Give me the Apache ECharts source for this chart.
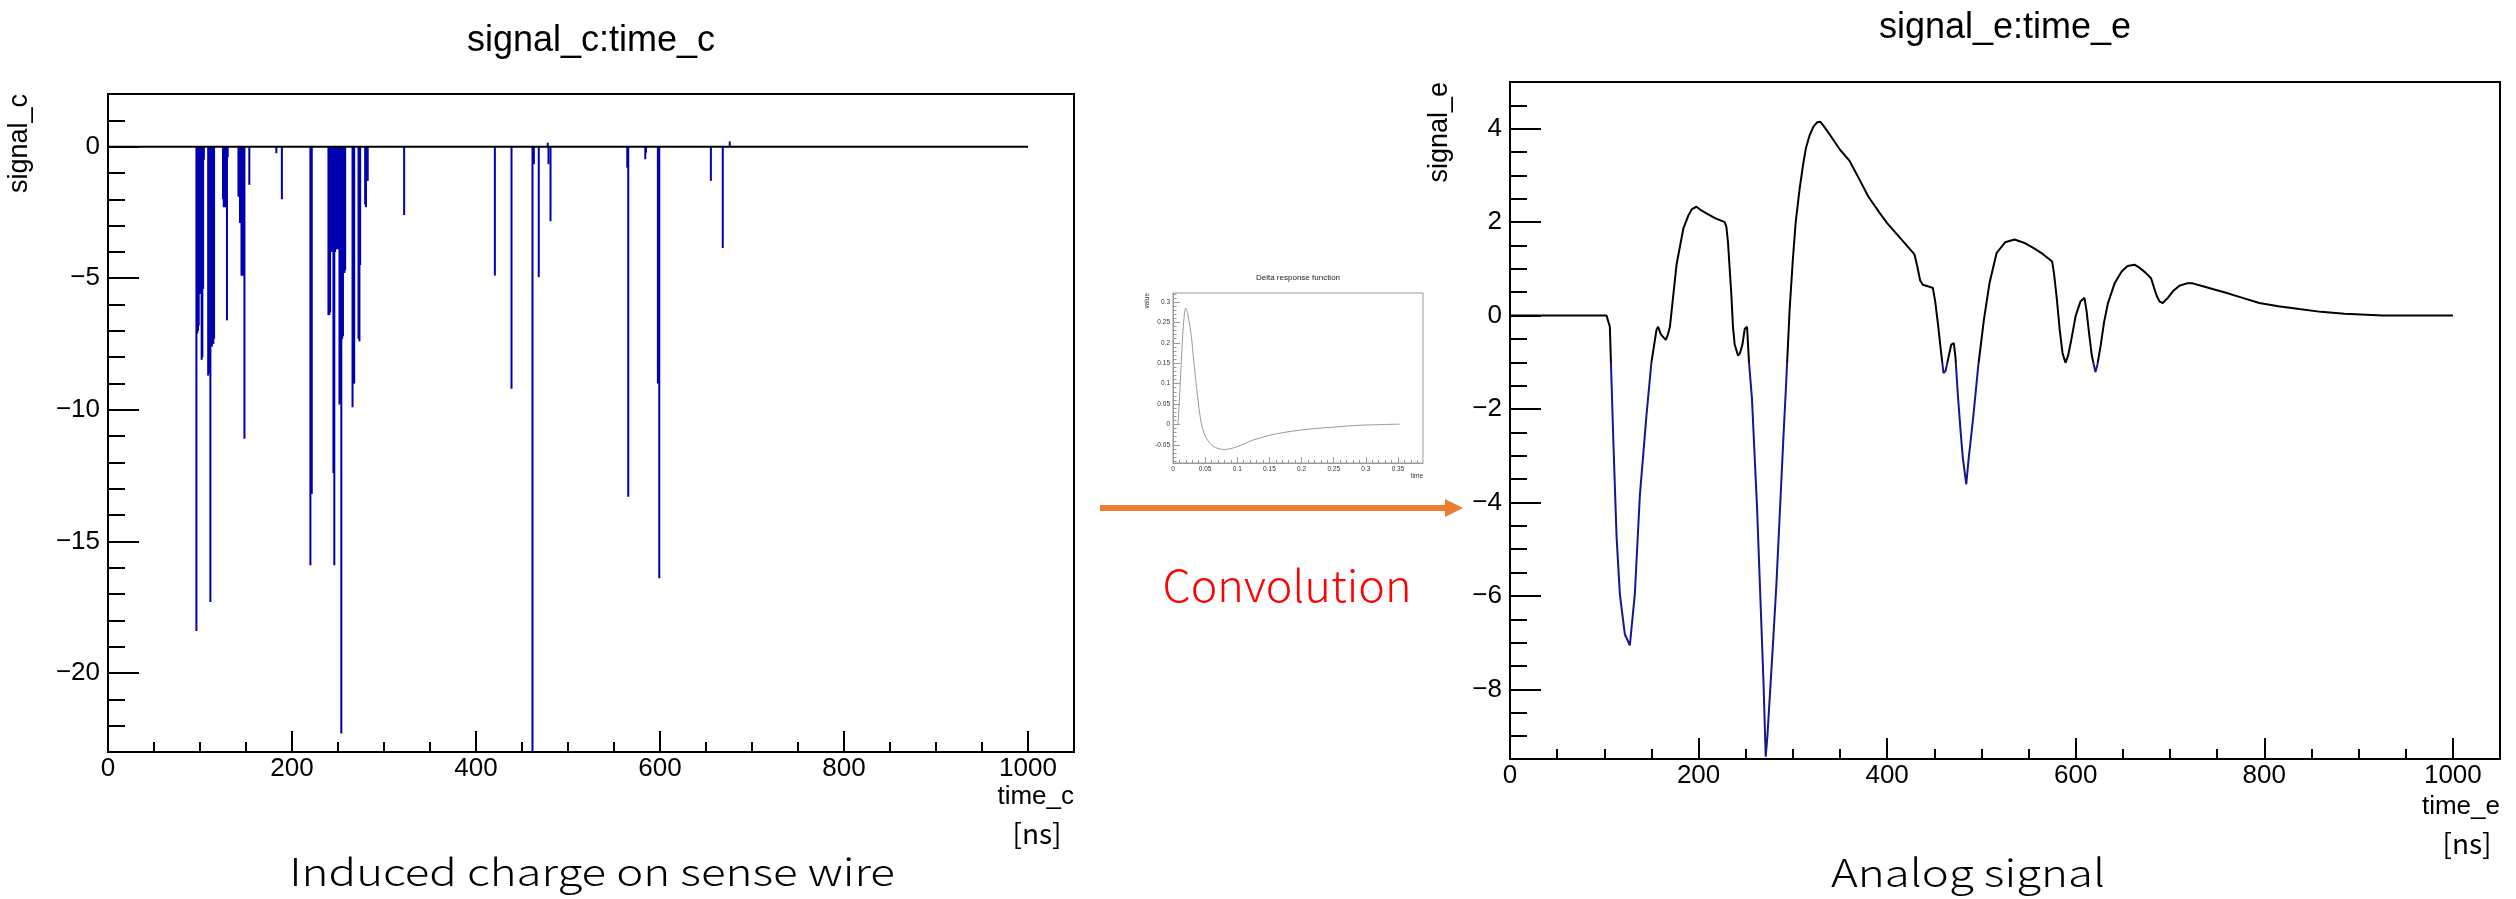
<!DOCTYPE html>
<html>
<head>
<meta charset="utf-8">
<script src="https://cdn.jsdelivr.net/npm/echarts@6/dist/echarts.min.js"></script>
<style>
html,body{margin:0;padding:0;background:#fff;}
#chart{width:2516px;height:899px;}
</style>
</head>
<body>
<div id="chart"></div>
<script>
// ---------- Data ----------
// Left: induced charge spikes (time_c [ns], signal_c)
const spikeTimes = [96.1,97.0,97.8,98.6,99.4,100.2,101.0,101.8,102.6,103.4,104.2,
  108.9,109.7,110.5,111.3,112.1,112.9,113.7,114.5,115.3,
  125.0,125.8,126.6,127.4,128.2,129.3,130.1,
  141.8,142.6,143.5,144.3,145.1,145.9,146.7,147.5,148.3,
  153.6,183.0,189.0,220.0,221.5,
  239.6,240.5,241.4,242.2,243.1,244.0,245.0,246.0,246.8,247.6,248.4,249.2,250.0,250.8,251.6,252.5,253.6,254.6,255.4,256.2,257.0,257.8,
  265.8,266.8,267.6,272.3,273.3,274.1,279.5,280.4,281.5,282.3,321.9,
  420.5,438.6,461.4,462.9,468.2,478.0,478.8,481.0,
  564.4,565.5,584.0,584.8,597.7,599.2,655.3,668.2,675.8];
const spikeValues = [-18.4,-7.1,-7.0,-6.8,-5.6,-5.5,-5.6,-8.1,-8.0,-5.4,-0.5,
  -8.7,-8.6,-7.6,-17.3,-7.5,-7.6,-7.4,-7.5,-7.3,
  -2.0,-2.3,-2.3,-1.9,-2.3,-6.6,-0.4,
  -1.9,-1.9,-2.9,-2.9,-4.9,-4.9,-4.8,-4.9,-11.1,
  -1.45,-0.25,-2.0,-15.9,-13.2,
  -6.4,-6.4,-6.3,-4.0,-4.0,-3.9,-12.4,-15.9,-4.0,-3.9,-3.8,-3.9,-3.8,-3.9,-9.8,-9.7,-22.3,-7.3,-7.2,-4.8,-4.8,-4.7,
  -9.9,-9.0,-9.0,-7.3,-7.4,-4.5,-2.2,-2.3,-1.3,-1.3,-2.6,
  -4.9,-9.2,-23.5,-0.67,-4.96,0.15,-0.67,-2.83,
  -0.8,-13.3,-0.48,-0.23,-9.0,-16.4,-1.3,-3.85,0.2];
const baseTimes = [0, 1000];
const baseValues = [0, 0];

// Right: analog signal (time_e [ns], signal_e)
const signalTimes = [0,102.4,104,105.9,109.5,113,116.5,121.8,127.1,132.4,137.7,144.7,150,155.4,157.1,160,165.2,167.5,169.6,176.7,183.8,189.1,193,197.7,203,208.3,218,227.7,229.5,231.2,234.8,236.5,238.3,241.9,244,246.5,249,251.4,253.5,256.6,261.9,265.4,268.9,271.2,273,276,279,282.5,286,290,293,296.6,300,303,307.2,311,314,317.8,322,326,329,333,340,350,360.2,370.7,380,392,400,410,420,429,432,435,437.9,443,448.5,451,454,457,459.8,462,465,468,470.7,472.5,475,478,480.3,483.9,486.5,489,491.4,496.6,502.6,508.6,516.1,525.1,535.1,545,555,565,575,577,580,583,586,589.1,592,595,600,605,609.3,611.5,614,617,620.9,623,626.4,630,634,641.4,648.9,655,662.3,668,674,679.9,683,686,689,692.3,697.7,703,710,718,724.1,735,747,759.4,777,794.7,815,837.1,860,885,920,925,1000];
const signalValues = [0,0,-0.03,-0.24,-2.62,-4.72,-5.96,-6.82,-7.06,-5.96,-3.86,-2.14,-1.0,-0.3,-0.24,-0.4,-0.52,-0.4,-0.24,1.1,1.86,2.14,2.28,2.33,2.25,2.19,2.08,2.0,1.9,1.57,0.43,-0.24,-0.62,-0.86,-0.8,-0.62,-0.28,-0.24,-1.0,-1.77,-4.05,-5.96,-7.87,-9.44,-9.0,-8.0,-7.0,-5.77,-4.3,-2.6,-1.4,0.14,1.2,2.0,2.72,3.25,3.6,3.86,4.05,4.14,4.15,4.05,3.85,3.55,3.31,2.91,2.55,2.2,1.98,1.75,1.52,1.31,1.05,0.75,0.66,0.63,0.59,0.3,-0.2,-0.75,-1.23,-1.18,-0.9,-0.62,-0.59,-0.9,-1.7,-2.5,-3.05,-3.61,-3.05,-2.6,-2.15,-1.08,-0.09,0.7,1.34,1.57,1.63,1.56,1.45,1.32,1.16,0.9,0.35,-0.3,-0.8,-1.01,-0.85,-0.55,0.0,0.3,0.38,0.1,-0.35,-0.85,-1.21,-1.05,-0.65,-0.15,0.25,0.7,0.95,1.06,1.09,1.02,0.92,0.8,0.6,0.42,0.3,0.27,0.38,0.52,0.64,0.69,0.69,0.63,0.56,0.49,0.38,0.27,0.2,0.14,0.08,0.04,0.01,0,0];

// Inset: delta response function (time, value)
const respTimes = [0.0078,0.010,0.013,0.016,0.0197,0.023,0.0285,0.032,0.036,0.040,0.044,0.048,0.052,0.057,0.062,0.070,0.080,0.090,0.0985,0.110,0.124,0.140,0.1555,0.175,0.197,0.22,0.2437,0.27,0.2955,0.3526];
const respValues = [0,0.06,0.158,0.24,0.285,0.27,0.216,0.16,0.10,0.045,0.0025,-0.02,-0.034,-0.045,-0.053,-0.059,-0.0615,-0.059,-0.055,-0.048,-0.0385,-0.031,-0.0246,-0.019,-0.014,-0.010,-0.0074,-0.004,-0.0016,0.0008];

// Tick labels
const leftXTicks = [0,200,400,600,800,1000];
const leftYTicks = [-20,-15,-10,-5,0];
const rightXTicks = [0,200,400,600,800,1000];
const rightYTicks = [-8,-6,-4,-2,0,2,4];
const insetXTicks = [0,0.05,0.1,0.15,0.2,0.25,0.3,0.35];
const insetYTicks = [-0.05,0,0.05,0.1,0.15,0.2,0.25,0.3];

// ---------- helpers ----------
function steps(a, b, s) { const r = []; const n = Math.round((b - a) / s); for (let i = 0; i <= n; i++) r.push(+(a + i * s).toFixed(4)); return r; }
const minus = v => String(v).replace('-', '\u2212');
const FONT = '"Liberation Sans", Arial, sans-serif';
const CJK = '"Noto Sans CJK SC", "Noto Sans", sans-serif';

function majorX(grid, min, max, ticks, opt) {
  return Object.assign({
    gridIndex: grid, type: 'value', min: min, max: max, position: 'bottom',
    nameMoveOverlap: false,
    axisLine: { onZero: false, lineStyle: { color: '#000', width: 2 } },
    axisTick: { inside: true, length: 21, customValues: ticks, lineStyle: { color: '#000', width: 2 } },
    axisLabel: { customValues: ticks, color: '#000', fontFamily: FONT, fontSize: 26, margin: 4, formatter: minus },
    splitLine: { show: false }
  }, opt || {});
}
function minorX(grid, min, max, ticks, len, w, color) {
  return { gridIndex: grid, type: 'value', min: min, max: max, position: 'bottom',
    axisLine: { show: false, onZero: false },
    axisTick: { inside: true, length: len, customValues: ticks, lineStyle: { color: color || '#000', width: w } },
    axisLabel: { show: false }, splitLine: { show: false } };
}
function majorY(grid, min, max, ticks, opt) {
  return Object.assign({
    gridIndex: grid, type: 'value', min: min, max: max, position: 'left',
    nameMoveOverlap: false,
    axisLine: { onZero: false, lineStyle: { color: '#000', width: 2 } },
    axisTick: { inside: true, length: 31, customValues: ticks, lineStyle: { color: '#000', width: 2 } },
    axisLabel: { customValues: ticks, color: '#000', fontFamily: FONT, fontSize: 26, margin: 8, formatter: minus },
    splitLine: { show: false }
  }, opt || {});
}
function minorY(grid, min, max, ticks, len, w, color) {
  return { gridIndex: grid, type: 'value', min: min, max: max, position: 'left',
    axisLine: { show: false, onZero: false },
    axisTick: { inside: true, length: len, customValues: ticks, lineStyle: { color: color || '#000', width: w } },
    axisLabel: { show: false }, splitLine: { show: false } };
}

const chart = echarts.init(document.getElementById('chart'), null, { renderer: 'canvas' });

const option = {
  backgroundColor: '#ffffff',
  animation: false,
  title: [
    { text: 'signal_c:time_c', left: 591, top: 23, textAlign: 'center', padding: 0,
      textStyle: { fontFamily: FONT, fontSize: 36, fontWeight: 'normal', color: '#000' } },
    { text: 'signal_e:time_e', left: 2005, top: 10, textAlign: 'center', padding: 0,
      textStyle: { fontFamily: FONT, fontSize: 36, fontWeight: 'normal', color: '#000' } },
    { text: 'Delta response function', left: 1298, top: 274, textAlign: 'center', padding: 0,
      textStyle: { fontFamily: FONT, fontSize: 8, fontWeight: 'normal', color: '#222' } }
  ],
  grid: [
    { left: 108, top: 94, width: 966, height: 658, show: true, borderColor: '#000', borderWidth: 2, backgroundColor: 'transparent' },
    { left: 1510, top: 82, width: 990, height: 677, show: true, borderColor: '#000', borderWidth: 2, backgroundColor: 'transparent' },
    { left: 1173, top: 293, width: 250, height: 170, show: true, borderColor: '#999', borderWidth: 1, backgroundColor: 'transparent' }
  ],
  xAxis: [
    majorX(0, 0, 1050, leftXTicks, { name: 'time_c', nameLocation: 'end', nameGap: 0,
      nameTextStyle: { fontFamily: FONT, fontSize: 26, color: '#000', align: 'right', verticalAlign: 'top', lineHeight: 30, padding: [30, 0, 0, 0] } }),
    minorX(0, 0, 1050, steps(50, 1050, 50), 10, 2),
    majorX(1, 0, 1050, rightXTicks, { name: 'time_e', nameLocation: 'end', nameGap: 0,
      nameTextStyle: { fontFamily: FONT, fontSize: 26, color: '#000', align: 'right', verticalAlign: 'top', lineHeight: 30, padding: [33, 0, 0, 0] } }),
    minorX(1, 0, 1050, steps(50, 1050, 50), 10, 2),
    majorX(2, 0, 0.3889, insetXTicks, {
      axisLine: { onZero: false, lineStyle: { color: '#999', width: 1 } },
      axisTick: { inside: true, length: 6, customValues: insetXTicks, lineStyle: { color: '#999', width: 1 } },
      axisLabel: { customValues: insetXTicks, color: '#333', fontFamily: FONT, fontSize: 6.5, margin: 3 },
      name: 'time', nameLocation: 'end', nameGap: 0,
      nameTextStyle: { fontFamily: FONT, fontSize: 6.5, color: '#333', align: 'right', verticalAlign: 'top', padding: [10, 0, 0, 0] } }),
    minorX(2, 0, 0.3889, steps(0, 0.38, 0.01), 3, 1, '#999')
  ],
  yAxis: [
    majorY(0, -23, 2, leftYTicks, { name: 'signal_c', nameLocation: 'end', nameRotate: 90, nameGap: 0,
      nameTextStyle: { fontFamily: FONT, fontSize: 27, color: '#000', align: 'right', verticalAlign: 'bottom', padding: [0, 0, 75, 0] } }),
    minorY(0, -23, 2, steps(-23, 2, 1), 17, 2),
    majorY(1, -9.49, 5, rightYTicks, { name: 'signal_e', nameLocation: 'end', nameRotate: 90, nameGap: 0,
      nameTextStyle: { fontFamily: FONT, fontSize: 27, color: '#000', align: 'right', verticalAlign: 'bottom', padding: [0, 0, 57, 0] } }),
    minorY(1, -9.49, 5, steps(-9, 5, 0.5), 17, 2),
    majorY(2, -0.0944, 0.322, insetYTicks, {
      axisLine: { onZero: false, lineStyle: { color: '#999', width: 1 } },
      axisTick: { inside: true, length: 7, customValues: insetYTicks, lineStyle: { color: '#999', width: 1 } },
      axisLabel: { customValues: insetYTicks, color: '#333', fontFamily: FONT, fontSize: 6.5, margin: 3, formatter: v => String(v) },
      name: 'value', nameLocation: 'end', nameRotate: 90, nameGap: 0,
      nameTextStyle: { fontFamily: FONT, fontSize: 6.5, color: '#333', align: 'right', verticalAlign: 'bottom', padding: [0, 0, 22, 0] } }),
    minorY(2, -0.0944, 0.322, steps(-0.09, 0.32, 0.01), 3.5, 1, '#999')
  ],
  series: [
    { type: 'bar', xAxisIndex: 0, yAxisIndex: 0, barWidth: 2, z: 2,
      itemStyle: { color: '#0000b0' },
      data: spikeTimes.map((t, i) => [t, spikeValues[i]]) },
    { type: 'line', xAxisIndex: 0, yAxisIndex: 0, symbol: 'none', z: 3,
      lineStyle: { color: '#000', width: 2 },
      data: baseTimes.map((t, i) => [t, baseValues[i]]) },
    { id: 'signal', type: 'line', xAxisIndex: 2, yAxisIndex: 2, symbol: 'none', z: 3,
      lineStyle: { color: '#000', width: 2 },
      data: signalTimes.map((t, i) => [t, signalValues[i]]) },
    { type: 'line', xAxisIndex: 4, yAxisIndex: 4, symbol: 'none', smooth: 0.3, z: 3,
      lineStyle: { color: '#999', width: 1 },
      data: respTimes.map((t, i) => [t, respValues[i]]) }
  ],
  graphic: [
    { type: 'line', shape: { x1: 1100, y1: 508, x2: 1448, y2: 508 }, style: { stroke: '#ED7D31', lineWidth: 6 } },
    { type: 'polygon', shape: { points: [[1445, 499], [1463, 508], [1445, 517]] }, style: { fill: '#ED7D31' } },
    { type: 'text', x: 1287, y: 585, scaleX: 1.02, style: { text: 'Convolution', fill: '#ff0000', font: '300 44px ' + CJK, textAlign: 'center', textVerticalAlign: 'middle' } },
    { type: 'text', x: 592, y: 872, scaleX: 1.2, style: { text: 'Induced charge on sense wire', fill: '#000', font: '300 38px ' + CJK, textAlign: 'center', textVerticalAlign: 'middle' } },
    { type: 'text', x: 1968, y: 873, scaleX: 1.2, style: { text: 'Analog signal', fill: '#000', font: '300 38px ' + CJK, textAlign: 'center', textVerticalAlign: 'middle' } },
    { type: 'text', x: 1037, y: 833, style: { text: '[ns]', fill: '#000', font: '28px ' + CJK, textAlign: 'center', textVerticalAlign: 'middle' } },
    { type: 'text', x: 2467, y: 843, style: { text: '[ns]', fill: '#000', font: '28px ' + CJK, textAlign: 'center', textVerticalAlign: 'middle' } }
  ]
};
chart.setOption(option);

// Steep negative lobes of the analog signal are rendered dark blue in the reference:
// colour the line with a vertical gradient whose switch point is placed through the y scale.
try {
  const p = chart.convertToPixel({ xAxisIndex: 2, yAxisIndex: 2 }, [0, -1]);
  if (p && isFinite(p[1])) {
    chart.setOption({ series: [{ id: 'signal', lineStyle: { color: new echarts.graphic.LinearGradient(0, p[1] - 1, 0, p[1] + 1,
      [{ offset: 0, color: '#000000' }, { offset: 1, color: '#16168e' }], true) } }] });
  }
} catch (e) { /* keep black line */ }
</script>
</body>
</html>
